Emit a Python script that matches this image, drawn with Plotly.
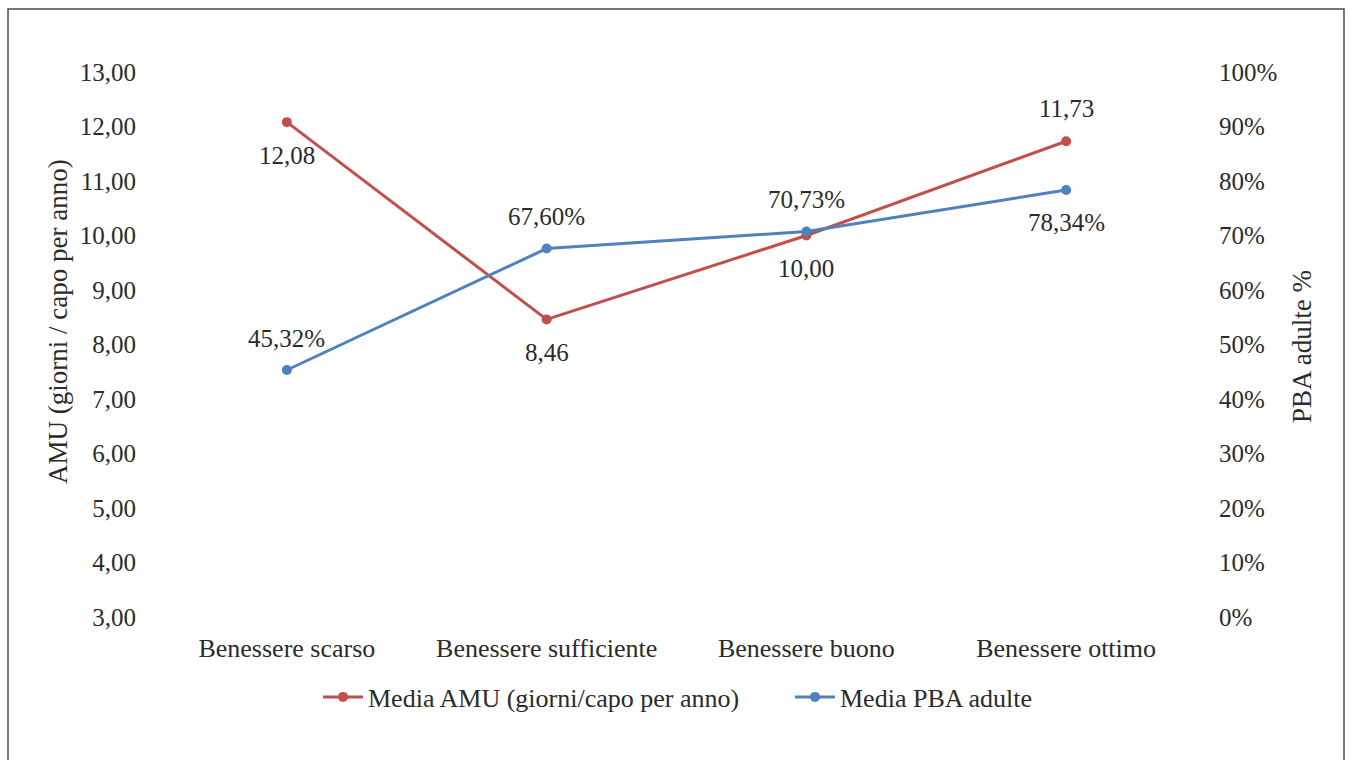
import plotly.graph_objects as go

categories = ["Benessere scarso", "Benessere sufficiente", "Benessere buono", "Benessere ottimo"]
amu_values = [12.08, 8.46, 10.00, 11.73]
pba_values = [0.4532, 0.6760, 0.7073, 0.7834]
amu_label_side = ["below", "below", "below", "above"]
pba_label_side = ["above", "above", "above", "below"]

amu_name = "Media AMU (giorni/capo per anno)"
pba_name = "Media PBA adulte"
left_title = "AMU (giorni / capo per anno)"
right_title = "PBA adulte %"
left_ticks = [3, 4, 5, 6, 7, 8, 9, 10, 11, 12, 13]
right_ticks = [0, 0.1, 0.2, 0.3, 0.4, 0.5, 0.6, 0.7, 0.8, 0.9, 1.0]

RED = "#C0504D"
BLUE = "#4F81BD"
TEXT = "#2b2b2b"
FONT = "Liberation Serif"
FS_TICK = 25
FS_CAT = 26
FS_TITLE = 27

# pixel layout of the plot area
W, H = 1351, 760
L, R, T, B = 157, 155, 72, 143
pw, ph = W - L - R, H - T - B


def px_x(x):
    return (x - L) / pw


def px_y(y):
    return 1 - (y - T) / ph


fig = go.Figure()
fig.add_trace(go.Scatter(
    x=categories, y=amu_values, name=amu_name, mode="lines+markers",
    line=dict(color=RED, width=3), marker=dict(color=RED, size=10),
    yaxis="y", hoverinfo="skip"))
fig.add_trace(go.Scatter(
    x=categories, y=pba_values, name=pba_name, mode="lines+markers",
    line=dict(color=BLUE, width=3), marker=dict(color=BLUE, size=10),
    yaxis="y2", hoverinfo="skip"))

annotations = []
for c, v, side in zip(categories, amu_values, amu_label_side):
    annotations.append(dict(
        x=c, y=v, xref="x", yref="y", text=f"{v:.2f}".replace(".", ","),
        showarrow=False, yshift=33 if side == "above" else -33,
        font=dict(family=FONT, size=FS_TICK, color=TEXT)))
for c, v, side in zip(categories, pba_values, pba_label_side):
    annotations.append(dict(
        x=c, y=v, xref="x", yref="y2", text=f"{v * 100:.2f}%".replace(".", ","),
        showarrow=False, yshift=32 if side == "above" else -32,
        font=dict(family=FONT, size=FS_TICK, color=TEXT)))

# axis titles
annotations.append(dict(
    x=px_x(58), y=px_y(322), xref="paper", yref="paper", text=left_title,
    textangle=-90, showarrow=False, xanchor="center", yanchor="middle",
    font=dict(family=FONT, size=FS_TITLE, color=TEXT)))
annotations.append(dict(
    x=px_x(1302), y=px_y(347), xref="paper", yref="paper", text=right_title,
    textangle=-90, showarrow=False, xanchor="center", yanchor="middle",
    font=dict(family=FONT, size=FS_TITLE, color=TEXT)))

fig.update_layout(
    width=W, height=H,
    margin=dict(l=L, r=R, t=T, b=B, pad=0),
    paper_bgcolor="white", plot_bgcolor="white",
    separators=",.",
    font=dict(family=FONT, size=FS_TICK, color=TEXT),
    showlegend=True,
    legend=dict(orientation="h", x=px_x(318), xanchor="left", y=px_y(697),
                yanchor="middle", font=dict(family=FONT, size=FS_CAT, color=TEXT),
                itemwidth=40, entrywidth=417, entrywidthmode="pixels"),
    xaxis=dict(showgrid=False, showline=False, zeroline=False, ticks="",
               ticklabelstandoff=13, tickfont=dict(family=FONT, size=FS_CAT, color=TEXT),
               range=[-0.5, 3.5]),
    yaxis=dict(range=[3, 13], tickvals=left_ticks, tickformat=".2f",
               showgrid=False, showline=False, zeroline=False, ticks="",
               ticklabelstandoff=20, tickfont=dict(family=FONT, size=FS_TICK, color=TEXT)),
    yaxis2=dict(range=[0, 1], tickvals=right_ticks, tickformat=".0%",
                overlaying="y", side="right",
                showgrid=False, showline=False, zeroline=False, ticks="",
                ticklabelstandoff=22, tickfont=dict(family=FONT, size=FS_TICK, color=TEXT)),
    annotations=annotations,
    shapes=[dict(type="rect", xref="paper", yref="paper",
                 x0=px_x(8), x1=px_x(1344), y0=px_y(800), y1=px_y(9),
                 line=dict(color="#4a4a4a", width=1.5), fillcolor="rgba(0,0,0,0)",
                 layer="below")],
)

fig.write_html("out.html")
